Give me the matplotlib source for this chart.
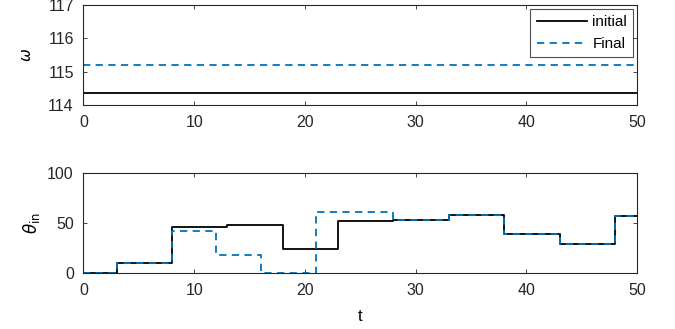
import matplotlib.pyplot as plt
import numpy as np

plt.rcParams['font.family'] = ['Liberation Sans', 'DejaVu Sans']
plt.rcParams['mathtext.fontset'] = 'dejavusans'

# top panel: constant omega
t_span = [0, 50]
omega_initial = 114.35
omega_final = 115.2

# bottom panel: piecewise constant theta_in
t_initial = [0, 3, 8, 13, 18, 23, 28, 33, 38, 43, 48, 50]
theta_initial = [0, 10, 46, 48, 24, 52, 53, 58, 39, 29, 57, 57]
t_final = [0, 3, 8, 12, 16, 21, 28, 33, 38, 43, 48, 50]
theta_final = [0, 10, 42, 18, 0, 61, 53, 58, 39, 29, 57, 57]

blue = '#0072BD'
axcol = '#262626'

fig = plt.figure(figsize=(6.75, 3.29), dpi=100)
ax1 = fig.add_axes([0.1237, 0.681, 0.820, 0.304])
ax2 = fig.add_axes([0.1237, 0.170, 0.820, 0.304])

ax1.plot(t_span, [omega_initial] * 2, color='black', lw=1.3, label='initial')
ax1.plot(t_span, [omega_final] * 2, color=blue, lw=1.3, ls=(0, (4, 3)), label='Final')
ax1.set_ylim(114, 117)
ax1.set_yticks([114, 115, 116, 117])
ax1.set_ylabel(r'$\omega$', fontsize=11, labelpad=10)
leg = ax1.legend(loc='upper right', fontsize=11, frameon=True, fancybox=False,
                 edgecolor=axcol, handlelength=3.3, borderaxespad=0.25,
                 labelspacing=0.55, handletextpad=0.35, borderpad=0.4)
leg.get_frame().set_linewidth(0.8)

ax2.step(t_initial, theta_initial, where='post', color='black', lw=1.3)
ax2.step(t_final, theta_final, where='post', color=blue, lw=1.3, ls=(0, (4, 3)))
ax2.set_ylim(0, 100)
ax2.set_yticks([0, 50, 100])
ax2.set_ylabel(r'$\theta_{\mathrm{in}}$', fontsize=12, labelpad=4)
ax2.set_xlabel('t', fontsize=12, labelpad=8)

for ax in (ax1, ax2):
    ax.set_xlim(0, 50)
    ax.set_xticks(np.arange(0, 51, 10))
    ax.tick_params(direction='in', length=3, width=0.6, labelsize=11.5,
                   top=True, right=True, colors=axcol, pad=7)
    for s in ax.spines.values():
        s.set_color(axcol)
        s.set_linewidth(0.8)

plt.savefig('out.png', dpi=100)
